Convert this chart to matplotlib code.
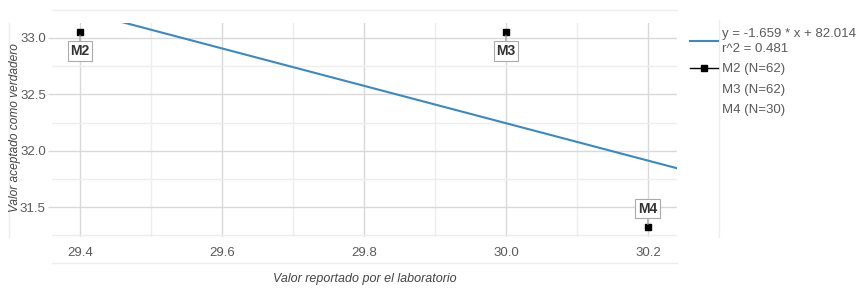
import numpy as np
import matplotlib
matplotlib.use("Agg")
from matplotlib import pyplot as plt
from matplotlib.lines import Line2D

# data
labs = ["M2", "M3", "M4"]
counts = [62, 62, 30]
reported = [29.4, 30.0, 30.2]
accepted = [33.05, 33.05, 31.32]
slope = -1.659
intercept = 82.014
r2 = 0.481

xlim = (29.3606, 30.241)
ylim = (31.234, 33.133)

grey = "#5a5a5a"
major = "#d9d9d9"
minor = "#eeeeee"
fs = 9.5

plt.rcParams["font.family"] = ["Liberation Sans", "DejaVu Sans"]

fig = plt.figure(figsize=(8.6, 2.88), dpi=100)
ax = fig.add_axes([52 / 860, 1 - 237 / 288, 625 / 860, 214 / 288])
ax.set_xlim(*xlim)
ax.set_ylim(*ylim)

ax.set_xticks([29.4, 29.6, 29.8, 30.0, 30.2])
ax.set_xticks([29.5, 29.7, 29.9, 30.1], minor=True)
ax.set_yticks([31.5, 32.0, 32.5, 33.0])
ax.set_yticks([31.25, 31.75, 32.25, 32.75], minor=True)
ax.grid(which="major", color=major, lw=1)
ax.grid(which="minor", color=minor, lw=1)
ax.set_axisbelow(True)
for s in ax.spines.values():
    s.set_visible(False)
ax.tick_params(which="both", length=0, labelsize=fs, labelcolor=grey)
ax.tick_params(axis="x", pad=7)
ax.tick_params(axis="y", which="major", length=3, color=major, width=1, pad=1.5)
ax.xaxis.set_major_formatter(matplotlib.ticker.FormatStrFormatter("%.1f"))
ax.yaxis.set_major_formatter(matplotlib.ticker.FormatStrFormatter("%.1f"))

# grid pieces that spill outside the plotting area
ax.plot(xlim, [33.25, 33.25], color=minor, lw=1, clip_on=False, zorder=0)
ax.plot(xlim, [31.0, 31.0], color=minor, lw=1, clip_on=False, zorder=0)
ax.plot([29.3, 29.3], ylim, color=minor, lw=1, clip_on=False, zorder=0)
ax.plot([30.3, 30.3], [ylim[0], 33.16], color=minor, lw=1, clip_on=False, zorder=0)

# regression line
xs = np.array(xlim)
ax.plot(xs, slope * xs + intercept, color="#3a89c5", lw=1.5, zorder=3)

# points
ax.plot(reported, accepted, ls="none", marker="s", ms=4.5, color="black", zorder=4)
offsets = [-13.5, -13.5, 13.5]
for lab, x, y, dy in zip(labs, reported, accepted, offsets):
    ax.annotate(lab, xy=(x, y), xytext=(0, dy), textcoords="offset points",
                ha="center", va="center", fontsize=fs + 0.5, fontweight="bold", color="#333333",
                bbox=dict(boxstyle="square,pad=0.2", fc="white", ec="#aaaaaa", lw=0.8),
                arrowprops=dict(arrowstyle="-", color="#999999", lw=0.8, shrinkA=0, shrinkB=2),
                zorder=5)

fig.text(365 / 860, 1 - 279 / 288, "Valor reportado por el laboratorio", fontsize=9,
         style="italic", color="#444444", ha="center", va="center")
fig.text(15 / 860, 1 - 128 / 288, "Valor aceptado como verdadero", fontsize=8.6,
         style="italic", color="#444444", ha="center", va="center", rotation=90)

# legend
handles = [
    Line2D([], [], color="#3a89c5", lw=1.5),
    Line2D([], [], color="black", lw=1, marker="s", ms=4.5),
    Line2D([], [], color="none"),
    Line2D([], [], color="none"),
]
texts = ["y = %.3f * x + %.3f\nr^2 = %.3f" % (slope, intercept, r2)]
texts += ["%s (N=%d)" % (l, n) for l, n in zip(labs, counts)]
leg = fig.legend(handles, texts, loc="upper left", bbox_to_anchor=(690 / 860, 1 - 28 / 288),
                 frameon=False, fontsize=fs, handlelength=2.1, handletextpad=0.3,
                 labelspacing=0.62, borderaxespad=0, borderpad=0)
for t in leg.get_texts():
    t.set_color(grey)
    t.set_linespacing(1.33)

fig.savefig("out.png", dpi=100)
